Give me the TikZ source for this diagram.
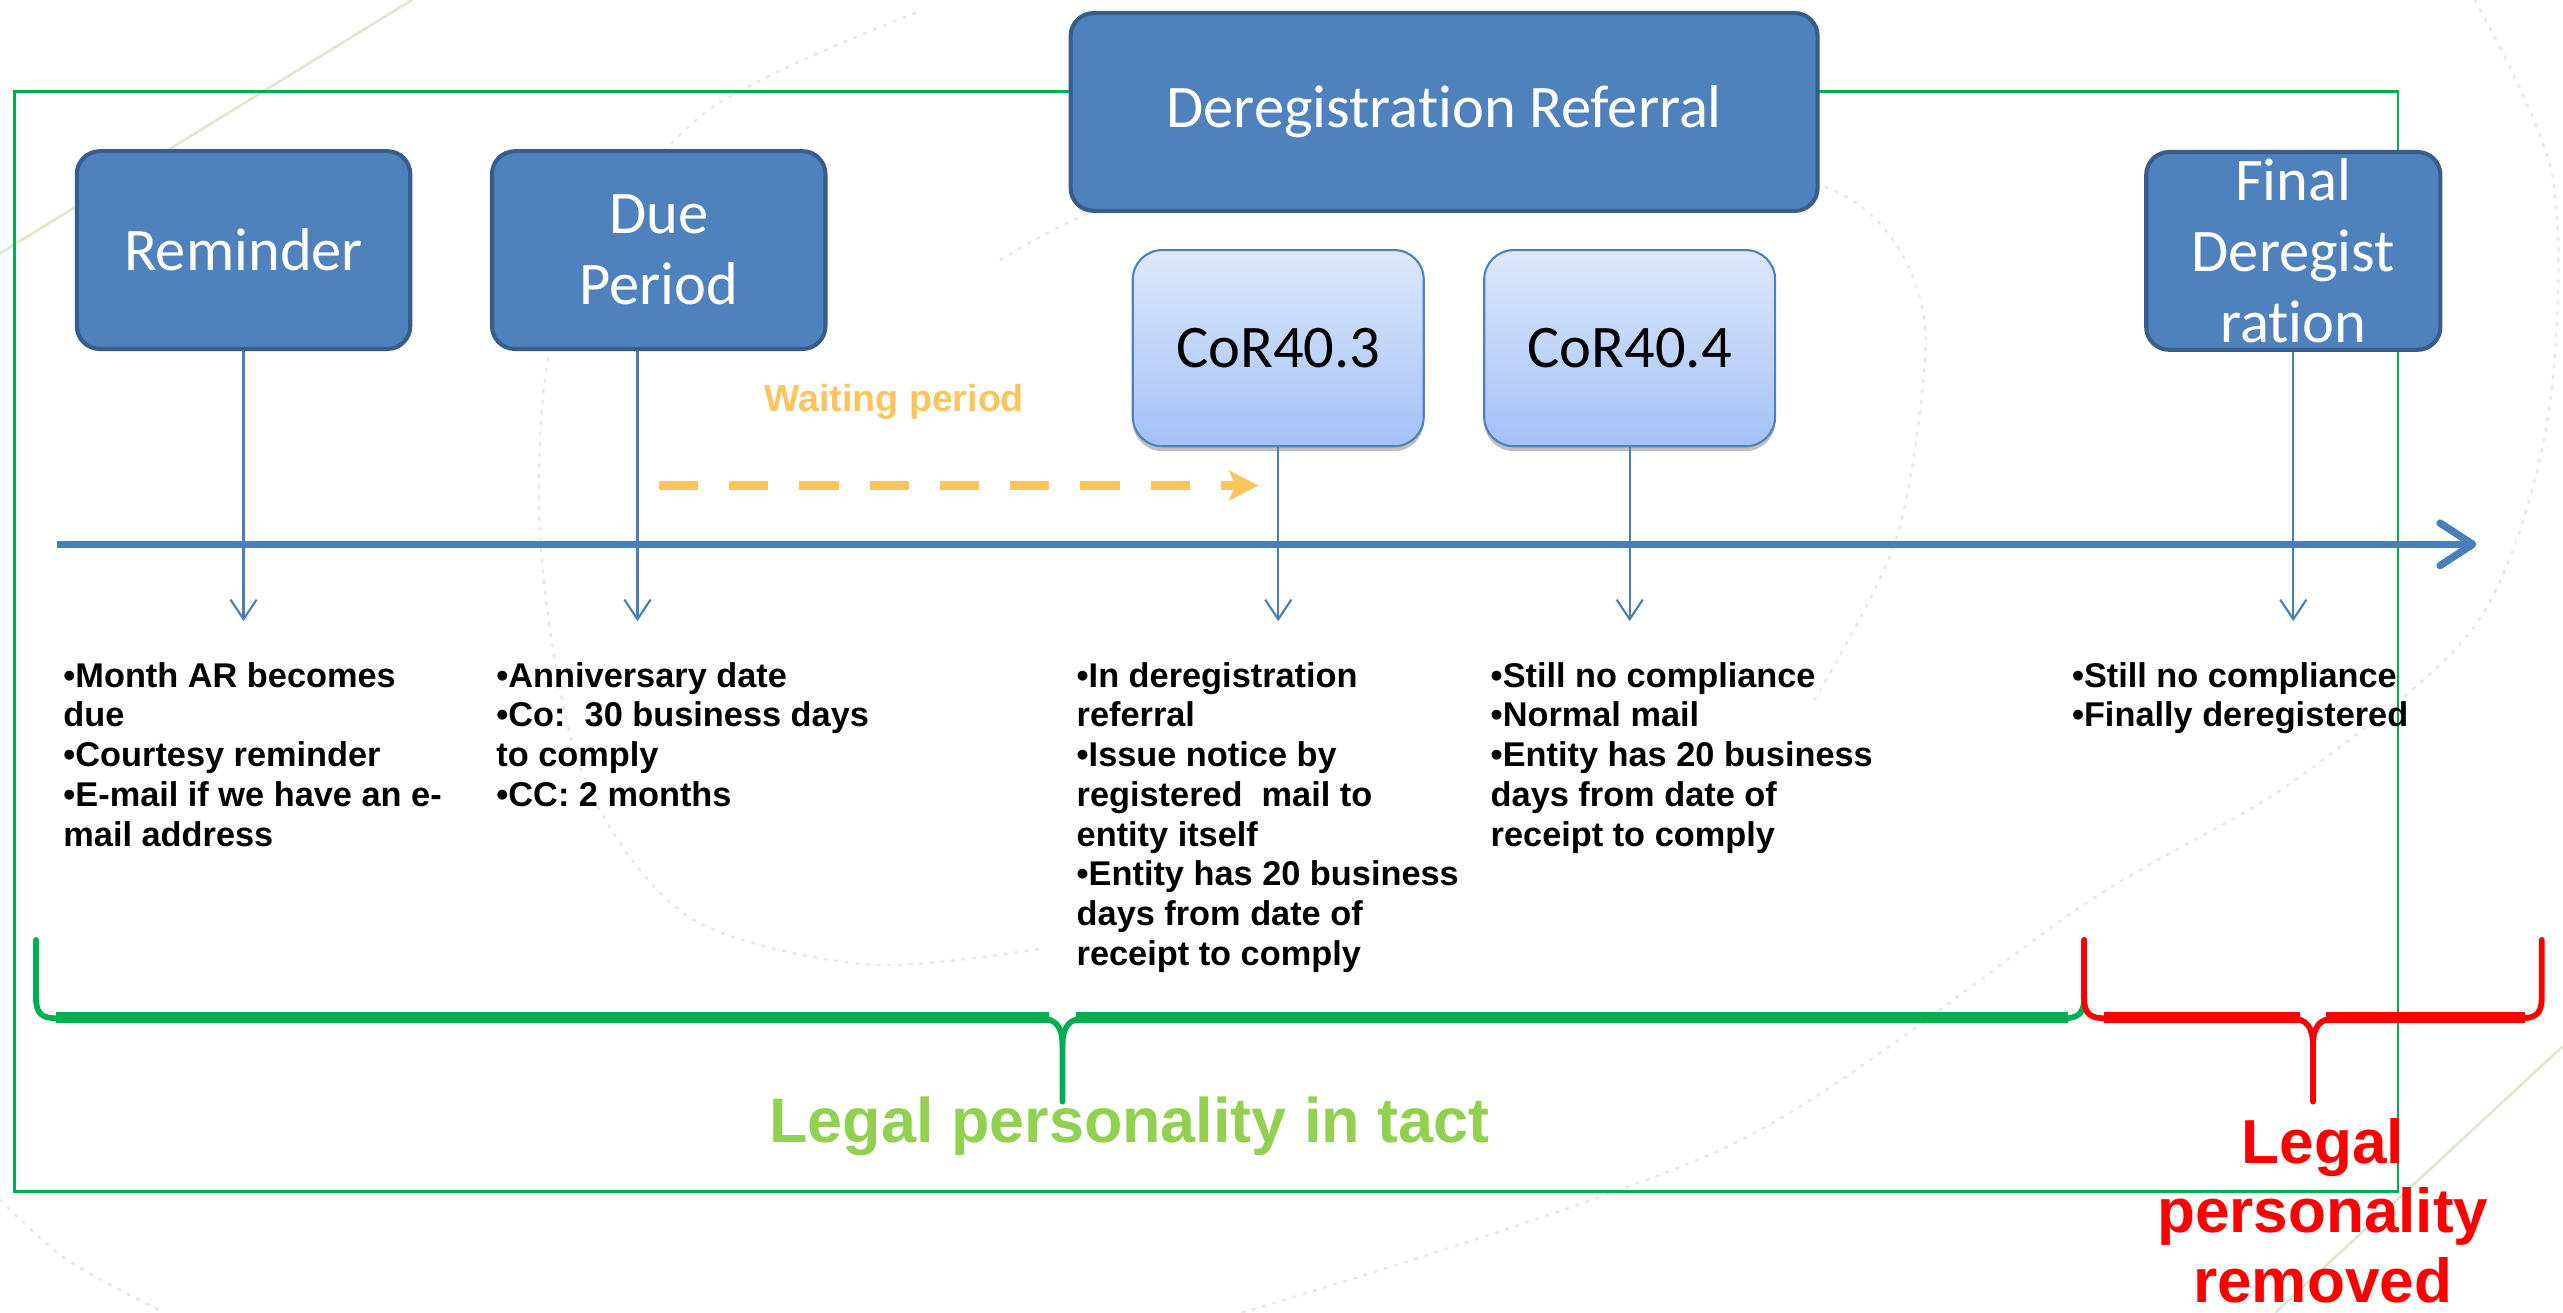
\documentclass[tikz,border=0pt]{standalone}
\usepackage{fontspec}
\setmainfont{Liberation Sans}
\newfontfamily\boxfont[Ligatures={NoCommon}]{Carlito}
\usetikzlibrary{arrows.meta,shadows,calc}
\definecolor{boxblue}{RGB}{79,129,189}
\definecolor{boxborder}{RGB}{56,93,138}
\definecolor{lineblue}{RGB}{74,126,187}
\definecolor{corborder}{RGB}{79,129,189}
\definecolor{cortop}{RGB}{222,232,252}
\definecolor{corbot}{RGB}{163,193,246}
\definecolor{framegreen}{RGB}{0,176,80}
\definecolor{legalgreen}{RGB}{146,208,80}
\definecolor{waitorange}{RGB}{252,196,92}
\definecolor{bracered}{RGB}{255,0,0}
\definecolor{decogreen}{RGB}{220,232,204}
\tikzset{
 darkbox/.style={draw=boxborder, line width=2.5pt, fill=boxblue, rounded corners=14pt, text=white, font=\boxfont\fontsize{37}{43.5}\selectfont, align=center, inner sep=0pt, minimum height=121pt},
 corbox/.style={draw=corborder, line width=1.3pt, top color=cortop, bottom color=corbot, rounded corners=18pt, text=black, font=\boxfont\fontsize{37}{43.5}\selectfont, inner sep=0pt, minimum width=178pt, minimum height=120pt, drop shadow={shadow xshift=0pt, shadow yshift=-3pt, opacity=0.25, fill=black}},
 stem/.style={draw=lineblue, line width=1.3pt, -{Straight Barb[length=12pt,width=16pt]}},
 timeline/.style={draw=lineblue, line width=4.5pt, -{Straight Barb[length=20pt,width=26pt,round]}},
 waitarrow/.style={draw=waitorange, line width=5pt, dash pattern=on 24pt off 19pt, -{Stealth[length=18pt,width=18pt,inset=4pt]}},
 bullets/.style={font=\fontsize{21}{24.3}\selectfont\bfseries, align=left, anchor=north west, inner sep=0pt},
 bracepath/.style={line width=3.5pt, line cap=round, line join=round},
 bandpath/.style={line width=6.5pt},
 decoline/.style={draw=decogreen, line width=1.5pt},
 decodot/.style={draw=black!9, line width=1.5pt, dash pattern=on 1.5pt off 5pt, line cap=round},
}
\begin{document}
\begin{tikzpicture}[x=1pt,y=-1pt]
\useasboundingbox (0,0) rectangle (1568,803);
\fill[white] (0,0) rectangle (1568,803);

% faint background decoration
\draw[decoline] (0,155) -- (252,0);
\draw[decoline] (1568,640) -- (1392,803);
\draw[decodot] plot[smooth] coordinates {(560,8) (430,70) (345,180) (330,320) (355,470) (420,560) (530,590) (640,580)};
\draw[decodot] plot[smooth] coordinates {(612,159) (665,131) (760,100) (880,88) (1000,92) (1116,114) (1161,151) (1178,210) (1160,330) (1110,428)};
\draw[decodot] plot[smooth] coordinates {(1514,0) (1562,110) (1558,260) (1514,383) (1400,480) (1280,550) (1060,700) (760,803)};
\draw[decodot] plot[smooth] coordinates {(0,734) (40,770) (100,803)};

% green frame
\draw[framegreen, line width=1.6pt] (9,56) rectangle (1467,729);

% boxes
\node[darkbox, minimum width=204pt] (rem) at (149,153) {Reminder};
\node[darkbox, minimum width=204pt] (due) at (403,153) {Due\\Period};
\node[darkbox, minimum width=457pt] (dr) at (883.5,68.5) {Deregistration Referral};
\node[darkbox, minimum width=180pt] (fin) at (1403,153.5) {Final\\Deregist\\ration};
\node[corbox] (c3) at (782,213) {CoR40.3};
\node[corbox] (c4) at (997,213) {CoR40.4};

% timeline
\coordinate (tls) at (35,333);
\coordinate (tle) at (1515,333);
\draw[timeline] (tls) -- (tle);

% stems
\coordinate (e1) at (149,380);
\coordinate (e2) at (390,380);
\coordinate (e3) at (782,380);
\coordinate (e4) at (997,380);
\coordinate (e5) at (1403,380);
\draw[stem] (rem.south) -- (e1);
\draw[stem] ([xshift=-13pt]due.south) -- (e2);
\draw[stem] (c3.south) -- (e3);
\draw[stem] (c4.south) -- (e4);
\draw[stem] (fin.south) -- (e5);

% waiting period
\node[font=\fontsize{23}{26}\selectfont\bfseries, text=waitorange, inner sep=0pt] (wait) at (547,246) {Waiting period};
\coordinate (ws) at (403,297);
\coordinate (we) at (770,297);
\draw[waitarrow] (ws) -- (we);

% bullet texts
\node[bullets] (t1) at (38.6,405) {•Month AR becomes\\due\\•Courtesy reminder\\•E-mail if we have an e-\\mail address};
\node[bullets] (t2) at (303.5,405) {•Anniversary date\\•Co:\ \ 30 business days\\to comply\\•CC: 2 months};
\node[bullets] (t3) at (658.5,405) {•In deregistration\\referral\\•Issue notice by\\registered\ \ mail to\\entity itself\\•Entity has 20 business\\days from date of\\receipt to comply};
\node[bullets] (t4) at (911.8,405) {•Still no compliance\\•Normal mail\\•Entity has 20 business\\days from date of\\receipt to comply};
\node[bullets] (t5) at (1267.4,405) {•Still no compliance\\•Finally deregistered};

% green brace
\draw[framegreen, bracepath] (22,575) -- (22,610) .. controls (22,621) and (26,623) .. (36,623) -- (636,623) .. controls (646,623) and (650,628) .. (650,640) -- (650,674);
\draw[framegreen, bracepath] (650,640) .. controls (650,628) and (654,623) .. (664,623) -- (1261,623) .. controls (1271,623) and (1275,621) .. (1275,610) -- (1275,575);
\draw[framegreen, bandpath] (34,622.5) -- (642,622.5);
\draw[framegreen, bandpath] (658,622.5) -- (1265,622.5);

% red brace
\draw[bracered, bracepath] (1275,575) -- (1275,610) .. controls (1275,621) and (1279,623) .. (1289,623) -- (1401,623) .. controls (1411,623) and (1415,628) .. (1415,640) -- (1415,674);
\draw[bracered, bracepath] (1415,640) .. controls (1415,628) and (1419,623) .. (1429,623) -- (1541,623) .. controls (1551,623) and (1555,621) .. (1555,610) -- (1555,575);
\draw[bracered, bandpath] (1287,622.5) -- (1407,622.5);
\draw[bracered, bandpath] (1423,622.5) -- (1545,622.5);

% labels
\node[font=\fontsize{38.5}{44}\selectfont\bfseries, text=legalgreen, anchor=base, inner sep=0pt] (lgreen) at (691,699) {Legal personality in tact};
\node[font=\fontsize{38}{42.5}\selectfont\bfseries, text=bracered, align=center, anchor=north, inner sep=0pt] (lred) at (1421,684) {Legal\\personality\\removed};
\end{tikzpicture}
\end{document}
